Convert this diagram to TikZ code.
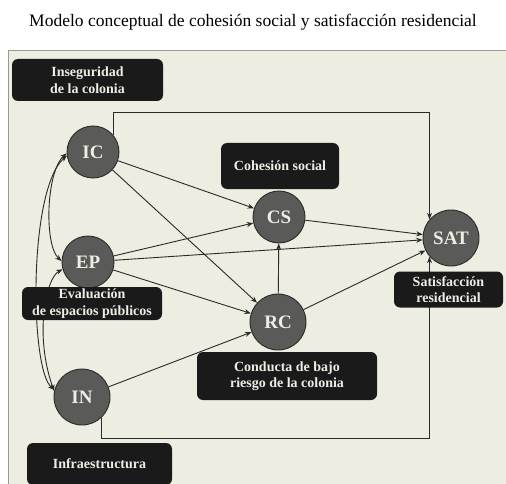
\documentclass[tikz,border=0pt]{standalone}
\usepackage{fontspec}
\setmainfont{Liberation Serif}
\usetikzlibrary{arrows.meta}
\definecolor{panel}{HTML}{EDEDE1}
\definecolor{panelline}{HTML}{9A9A92}
\definecolor{circfill}{HTML}{5A5A58}
\definecolor{boxfill}{HTML}{1A1A1A}
\definecolor{linecol}{HTML}{2A2A2A}
\definecolor{txtlight}{HTML}{EEEEE4}
\begin{document}
\begin{tikzpicture}[x=1pt,y=-1pt,
  var/.style={circle, fill=circfill, draw=linecol, line width=0.9pt, minimum size=52pt, inner sep=0pt, text=txtlight, font=\bfseries\fontsize{19}{19}\selectfont},
  lbl/.style={rounded corners=6pt, fill=boxfill, text=txtlight, align=center, font=\bfseries\fontsize{14}{16.5}\selectfont, inner sep=0pt},
  arr/.style={draw=linecol, line width=0.9pt, -{Stealth[length=6.5pt,width=5pt]}},
  dbl/.style={draw=linecol, line width=0.9pt, {Stealth[length=6.5pt,width=5pt]}-{Stealth[length=6.5pt,width=5pt]}}]
\useasboundingbox (0,0) rectangle (506,484);
\fill[white] (0,0) rectangle (506,484);
\draw[fill=panel, draw=panelline, line width=0.8pt] (8,50) rectangle (530,510);
\node[font=\fontsize{17.5}{17.5}\selectfont] (title) at (253,22) {Modelo conceptual de cohesión social y satisfacción residencial};
% variables
\node[var] (IC) at (93,152) {IC};
\node[var] (EP) at (88,262) {EP};
\node[var, minimum size=56pt] (IN) at (82,397) {IN};
\node[var] (CS) at (279,217) {CS};
\node[var, minimum size=56pt] (RC) at (278,322) {RC};
\node[var, minimum size=56pt] (SAT) at (451,238) {SAT};
\coordinate (topy) at (0,112);
\coordinate (boty) at (0,438);
% connectors
\draw[arr] (IC.40) |- (SAT.139 |- topy) -- (SAT.139);
\draw[arr] (IN.-48) |- (SAT.-139 |- boty) -- (SAT.-139);
\draw[arr] (IC) -- (CS);
\draw[arr] (IC) -- (RC);
\draw[arr] (EP) -- (CS);
\draw[arr] (EP) -- (SAT);
\draw[arr] (EP) -- (RC);
\draw[arr] (IN) -- (RC);
\draw[arr] (CS) -- (SAT);
\draw[arr] (RC) -- (CS);
\draw[arr] (RC) -- (SAT);
\draw[dbl] (IC.183) .. controls (46,172) and (44,245) .. (EP.178);
\draw[dbl] (IN.165) .. controls (30,370) and (28,190) .. (IC.188);
\draw[dbl] (EP.196) .. controls (46,278) and (34,335) .. (IN.168);
% labels
\node[lbl, minimum width=151pt, minimum height=42pt] (lins) at (87.5,80) {Inseguridad\\de la colonia};
\node[lbl, minimum width=118pt, minimum height=46pt] (lcs) at (280,166) {Cohesión social};
\node[lbl, minimum width=109pt, minimum height=36pt] (lsat) at (448.5,289.5) {Satisfacción\\residencial};
\node[lbl, minimum width=140pt, minimum height=33pt] (lep) at (92,303.5) {Evaluación\\de espacios públicos};
\node[lbl, minimum width=180pt, minimum height=48pt] (lrc) at (287,376) {Conducta de bajo\\riesgo de la colonia};
\node[lbl, minimum width=145pt, minimum height=42pt] (lin) at (99.5,464) {Infraestructura};
\end{tikzpicture}
\end{document}
